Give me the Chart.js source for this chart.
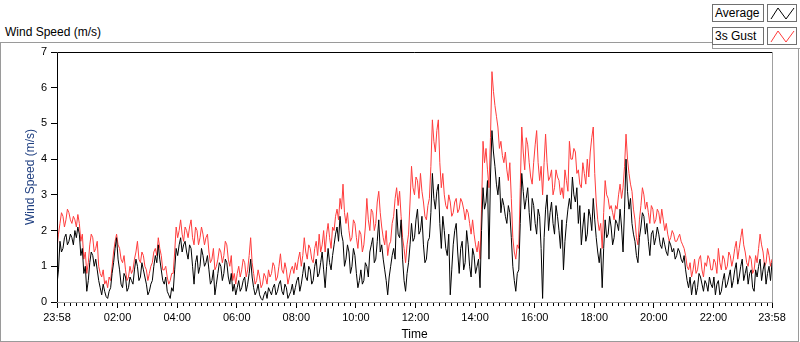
<!DOCTYPE html>
<html>
<head>
<meta charset="utf-8">
<script src="https://cdn.jsdelivr.net/npm/chart.js@4.4.1/dist/chart.umd.min.js"></script>
<style>
  html, body { margin: 0; padding: 0; background: #fff; }
  body { width: 800px; height: 342px; position: relative; overflow: hidden; font-family: "Liberation Sans", Arial, sans-serif; }
  #frame { position: absolute; left: 0; top: 42px; width: 799px; height: 300px; border: 1px solid #9a9a9a; box-sizing: border-box; }
  #legendCut { position: absolute; left: 712px; top: 40px; width: 88px; height: 9px; background: #fff; border-left: 1px solid #9a9a9a; border-bottom: 1px solid #9a9a9a; box-sizing: border-box; }
  #title { position: absolute; left: 5px; top: 25px; font-size: 12px; color: #000; }
  .lg { position: absolute; height: 18px; border: 1px solid #707070; box-sizing: border-box; background: #fff; font-size: 12px; line-height: 16px; padding-left: 2px; z-index: 2; }
  .lg svg { display: block; }
  canvas { position: absolute; left: 0; top: 0; z-index: 1; }
</style>
</head>
<body>
<div id="frame"></div>
<div id="legendCut"></div>
<div id="title">Wind Speed (m/s)</div>
<div class="lg" style="left:712px;top:4px;width:52px;">Average</div>
<div class="lg" style="left:767px;top:4px;width:30px;padding:0;"><svg width="28" height="16"><polyline points="3,14 10,3 18,14 26,3" fill="none" stroke="#000" stroke-width="1"/></svg></div>
<div class="lg" style="left:712px;top:27px;width:52px;">3s Gust</div>
<div class="lg" style="left:767px;top:27px;width:30px;padding:0;"><svg width="28" height="16"><polyline points="3,14 10,3 18,14 26,3" fill="none" stroke="#ff3c3c" stroke-width="1"/></svg></div>
<canvas id="windChart" width="800" height="342"></canvas>
<script>
// one sample every 3 minutes, starting at 23:58
const sampleStep = 3;
const spanMinutes = 1440;
const startClock = "23:58";

const timeLabels = ["23:58", "02:00", "04:00", "06:00", "08:00", "10:00", "12:00",
  "14:00", "16:00", "18:00", "20:00", "22:00", "23:58"];

const averageSpeed = [
  0.5,0.9, 1.7,1.4, 1.5,1.8, 1.9,1.6, 1.7,1.9, 1.8,1.6, 2.0,1.8, 2.1,1.9, 1.3,1.5, 0.8,1.0,
  0.3,0.6, 1.1,1.4, 1.3,1.0, 1.2,0.9, 0.6,0.4, 0.2,0.5, 0.3,0.15, 0.1,0.3, 0.4,0.8, 1.1,1.5,
  1.8,1.2, 0.9,0.5, 0.4,0.8, 0.7,0.3, 0.4,0.7, 0.6,0.5, 0.9,1.2, 1.0,0.6, 0.7,1.1, 0.9,0.7,
  0.5,0.2, 0.3,0.5, 0.6,1.0, 1.3,1.1, 1.6,1.2, 0.9,0.6, 0.5,0.7, 0.3,0.2, 0.1,0.4, 0.3,0.9,
  1.5,1.3, 1.6,1.8, 1.4,1.6, 1.7,1.4, 1.2,1.6, 1.5,1.0, 0.5,1.1, 1.3,0.8, 1.0,1.5, 1.3,1.0,
  1.1,1.3, 0.9,0.5, 0.6,0.9, 0.2,0.5, 0.8,1.1, 1.0,0.6, 0.8,1.2, 1.1,0.7, 0.5,0.8, 0.3,0.5,
  0.2,0.4, 0.6,0.3, 0.4,0.6, 0.7,0.3, 0.5,0.8, 1.2,0.7, 0.4,0.2, 0.3,0.5, 0.2,0.1, 0.05,0.2,
  0.3,0.1, 0.4,0.3, 0.2,0.4, 0.5,0.2, 0.3,0.5, 0.6,0.3, 0.2,0.5, 0.4,0.1, 0.2,0.3, 0.5,0.2,
  0.4,0.6, 0.7,0.3, 0.5,0.8, 1.1,0.7, 0.6,1.0, 0.9,0.5, 0.6,1.0, 1.2,0.7, 0.8,1.1, 1.4,0.9,
  0.4,1.0, 1.5,1.1, 0.9,1.3, 1.6,1.9, 2.1,1.7, 2.4,1.9, 1.7,1.0, 1.2,1.6, 1.4,0.8, 1.0,1.5,
  1.3,0.8, 0.4,0.6, 0.9,0.5, 0.6,1.1, 1.0,0.7, 1.4,1.6, 1.8,1.1, 1.2,1.7, 2.3,1.4, 1.6,1.2,
  0.9,0.6, 0.2,0.7, 1.0,1.3, 1.5,1.2, 2.6,1.9, 1.8,2.3, 1.2,0.6, 0.3,0.8, 1.1,1.6, 2.2,1.7,
  1.8,2.3, 2.6,1.9, 2.0,2.4, 1.6,1.1, 1.2,1.7, 1.8,2.5, 3.6,2.9, 2.6,3.1, 3.3,2.2, 1.5,2.4,
  2.0,1.5, 1.3,1.9, 0.2,0.9, 1.6,2.0, 2.2,1.4, 0.8,1.5, 1.7,0.9, 1.1,2.0, 1.6,1.0, 0.7,1.5,
  1.3,0.8, 1.0,1.2, 0.4,2.0, 3.2,2.6, 2.8,3.4, 1.2,3.5, 4.8,4.2, 3.8,3.3, 3.0,3.5, 2.5,2.9,
  2.7,2.4, 2.2,2.7, 2.5,1.8, 1.0,0.6, 0.3,0.8, 0.9,2.2, 3.6,3.1, 2.6,2.9, 3.2,2.5, 2.0,2.9,
  2.7,2.2, 1.9,2.6, 2.4,1.5, 0.1,1.8, 2.6,3.0, 2.0,2.5, 2.8,2.2, 1.9,2.7, 2.4,2.0, 1.5,2.3,
  0.9,1.7, 2.2,2.6, 2.9,2.6, 3.5,3.0, 2.8,3.2, 2.2,2.7, 1.6,2.1, 2.5,1.7, 1.9,2.6, 2.4,2.0,
  2.9,2.3, 1.8,1.4, 1.1,1.5, 0.4,1.5, 2.3,1.8, 1.9,2.4, 2.1,1.6, 1.8,2.3, 2.2,2.0, 2.6,2.1,
  1.4,2.6, 4.0,3.1, 2.6,2.9, 2.2,1.9, 1.7,1.3, 1.1,1.8, 2.1,2.5, 2.4,1.9, 2.2,1.7, 1.3,1.9,
  2.0,1.6, 1.8,2.1, 1.9,1.6, 1.5,1.8, 1.6,1.4, 1.3,1.7, 1.6,1.4, 1.5,1.2, 1.3,1.5, 1.4,1.2,
  1.1,1.3, 0.9,0.6, 0.4,0.7, 0.2,0.5, 0.6,0.2, 0.4,0.8, 0.7,0.5, 0.3,0.6, 0.5,0.3, 0.7,0.5,
  0.4,0.7, 0.2,0.5, 0.6,0.2, 0.3,0.6, 0.8,0.4, 0.5,0.7, 0.9,0.4, 0.6,0.9, 1.1,0.5, 0.7,1.0,
  1.2,0.6, 0.8,1.0, 0.5,0.8, 0.9,0.4, 0.3,0.9, 0.7,1.0, 1.2,0.6, 0.9,1.1, 0.5,0.8, 1.0,0.6,
  1.1
];

const gustSpeed = [
  1.5,1.9, 2.2,2.5, 2.4,2.1, 2.3,2.6, 2.5,2.3, 2.2,2.4, 2.3,2.1, 2.45,2.2, 1.7,1.9, 1.2,1.4,
  0.8,1.1, 1.6,1.9, 1.8,1.4, 1.5,1.7, 1.0,0.8, 0.7,0.9, 0.5,0.6, 0.4,0.7, 0.6,1.0, 1.4,1.7,
  1.9,1.6, 1.5,1.2, 1.1,1.3, 0.9,0.6, 0.7,1.0, 0.8,0.9, 1.2,1.4, 1.7,1.2, 1.1,1.4, 1.3,1.0,
  0.9,0.6, 0.8,1.0, 1.1,1.4, 1.5,1.3, 1.8,1.5, 1.3,0.9, 0.9,1.0, 0.7,0.5, 0.6,0.8, 0.8,1.4,
  2.1,1.8, 2.0,2.3, 1.9,1.7, 2.1,2.0, 1.8,2.1, 2.3,1.8, 1.6,2.1, 2.0,1.6, 1.8,2.1, 1.9,1.6,
  1.8,1.9, 1.4,1.1, 1.2,1.5, 0.9,1.0, 1.2,1.5, 1.4,1.1, 1.3,1.7, 1.6,1.2, 1.0,1.3, 0.6,0.8,
  0.5,0.8, 1.0,0.7, 0.9,1.2, 1.1,0.7, 0.9,1.3, 1.8,1.1, 0.8,0.5, 0.6,0.9, 0.7,0.4, 0.5,0.8,
  0.7,0.5, 0.9,0.7, 0.8,1.1, 1.0,0.6, 0.7,1.0, 1.35,0.9, 0.8,1.1, 0.9,0.5, 0.7,0.9, 1.0,0.8,
  1.1,0.9, 1.2,1.4, 1.0,1.3, 1.8,1.4, 1.2,1.6, 1.5,1.2, 1.1,1.5, 1.7,1.3, 1.9,1.4, 1.6,2.0,
  1.4,1.9, 2.2,1.8, 1.5,2.1, 2.0,2.4, 2.6,2.3, 2.9,2.6, 3.3,2.5, 2.2,2.5, 2.0,1.7, 1.8,2.3,
  2.2,1.8, 1.5,2.0, 1.9,1.4, 1.6,2.1, 2.9,2.3, 2.0,2.6, 2.5,2.0, 2.2,2.8, 3.1,2.5, 2.1,1.8,
  1.6,2.0, 1.3,1.6, 1.7,2.2, 2.4,2.9, 3.2,2.7, 3.1,2.4, 1.8,1.5, 1.1,1.6, 1.9,2.8, 3.8,3.2,
  3.0,3.5, 3.4,2.9, 3.6,3.1, 2.8,2.4, 2.3,2.7, 2.9,3.8, 5.1,4.5, 4.2,4.8, 5.1,3.9, 3.2,3.6,
  3.0,2.7, 2.6,3.0, 2.8,2.4, 2.5,2.8, 2.9,2.5, 2.6,2.9, 2.8,2.6, 2.3,2.6, 2.5,2.2, 1.9,2.3,
  1.9,1.6, 1.4,1.7, 1.2,2.6, 4.5,3.9, 4.3,3.7, 3.2,4.6, 6.45,5.9, 5.5,5.2, 4.9,4.3, 4.5,4.1,
  3.9,4.2, 3.7,3.4, 3.9,2.9, 1.8,1.4, 1.2,1.6, 1.5,3.2, 4.9,4.2, 3.7,4.6, 4.4,3.9, 3.5,3.3,
  3.9,4.4, 4.8,3.9, 3.4,3.8, 3.0,3.9, 4.7,3.9, 3.4,3.5, 3.7,3.0, 3.2,3.7, 3.5,3.4, 3.0,3.2,
  2.9,3.7, 3.4,3.1, 4.5,4.0, 4.0,4.3, 4.2,3.6, 3.7,3.3, 3.2,3.9, 3.6,3.3, 4.0,3.5, 4.2,4.6,
  4.9,3.6, 2.8,2.3, 2.0,2.2, 1.5,2.5, 3.4,3.0, 2.9,2.6, 2.7,2.5, 2.3,2.7, 2.6,3.0, 3.3,2.9,
  3.2,3.8, 4.7,4.0, 3.6,3.3, 3.1,2.6, 2.3,1.8, 1.6,2.3, 2.7,3.2, 3.0,2.6, 2.8,2.5, 2.2,2.7,
  2.6,2.2, 2.3,2.6, 2.5,2.2, 2.6,2.3, 2.0,2.2, 1.9,1.7, 1.8,2.0, 1.9,1.7, 1.7,1.8, 1.9,1.7,
  1.6,1.5, 1.3,1.0, 0.9,1.1, 0.7,0.9, 1.2,0.8, 0.9,1.2, 1.3,0.9, 0.7,1.1, 1.0,1.3, 1.2,0.9,
  0.9,1.2, 1.1,0.8, 1.5,1.1, 0.9,1.3, 1.2,0.9, 1.0,1.4, 1.3,1.0, 1.2,1.5, 1.7,1.2, 1.5,1.8,
  2.05,1.6, 1.4,1.1, 1.0,1.3, 1.2,0.8, 0.9,1.3, 1.1,1.5, 1.9,1.6, 1.4,1.0, 1.1,1.5, 1.3,1.0,
  1.2
];

const tickFont = { family: "'Liberation Sans', Arial, sans-serif", size: 11 };
const titleFont = { family: "'Liberation Sans', Arial, sans-serif", size: 12 };

function clockToMinutes(label) {
  const [h, m] = label.split(":").map(Number);
  return h * 60 + m;
}

// minutes after the start of the plot for each tick label
const startMin = clockToMinutes(startClock);
const tickMinutes = timeLabels.map((lab, i) => {
  if (i === timeLabels.length - 1) return spanMinutes;
  return (clockToMinutes(lab) - startMin + 1440) % 1440;
});

const avgPoints = averageSpeed.map((v, i) => ({ x: i * sampleStep, y: v }));
const gustPoints = gustSpeed.map((v, i) => ({ x: i * sampleStep, y: v }));

// plot frame and minor time ticks
const framePlugin = {
  id: "frame",
  afterDraw(chart) {
    const { ctx, chartArea: a, scales } = chart;
    ctx.save();
    ctx.lineWidth = 1;
    ctx.strokeStyle = "#000";
    ctx.beginPath();
    ctx.moveTo(a.left + 0.5, a.bottom);
    ctx.lineTo(a.left + 0.5, a.top + 0.5);
    ctx.lineTo(a.right, a.top + 0.5);
    ctx.stroke();
    ctx.strokeStyle = "#a0a0a0";
    ctx.beginPath();
    ctx.moveTo(a.right + 0.5, a.top);
    ctx.lineTo(a.right + 0.5, a.bottom + 0.5);
    ctx.lineTo(a.left, a.bottom + 0.5);
    ctx.stroke();

    ctx.strokeStyle = "#000";
    ctx.beginPath();
    for (let t = 2 + 12; t < spanMinutes; t += 12) {
      const near = tickMinutes.some((m) => Math.abs(m - t) < 6);
      if (near) continue;
      const px = Math.round(scales.x.getPixelForValue(t)) + 0.5;
      ctx.moveTo(px, a.bottom + 1);
      ctx.lineTo(px, a.bottom + 4);
    }
    ctx.stroke();
    ctx.restore();
  },
};

new Chart(document.getElementById("windChart"), {
  type: "line",
  data: {
    datasets: [
      {
        label: "Average",
        data: avgPoints,
        borderColor: "#000",
        borderWidth: 1,
        pointRadius: 0,
        tension: 0,
      },
      {
        label: "3s Gust",
        data: gustPoints,
        borderColor: "#ff3c3c",
        borderWidth: 1,
        pointRadius: 0,
        tension: 0,
      },
    ],
  },
  options: {
    responsive: false,
    animation: false,
    devicePixelRatio: 1,
    layout: { padding: { left: 0, top: 52, right: 28, bottom: 0 } },
    plugins: { legend: { display: false }, tooltip: { enabled: false } },
    scales: {
      x: {
        type: "linear",
        min: 0,
        max: spanMinutes,
        afterBuildTicks: (s) => {
          s.ticks = tickMinutes.map((v) => ({ value: v }));
        },
        afterFit: (s) => {
          s.height = 40;
        },
        ticks: {
          autoSkip: false,
          maxRotation: 0,
          padding: 3,
          color: "#000",
          font: tickFont,
          callback: (v) => timeLabels[tickMinutes.indexOf(v)],
        },
        grid: { drawOnChartArea: false, tickLength: 6, color: "#000" },
        border: { display: false },
        title: { display: true, text: "Time", color: "#000", font: titleFont, padding: { top: 0, bottom: 0 } },
      },
      y: {
        min: 0,
        max: 7,
        afterFit: (s) => {
          s.width = 57;
        },
        ticks: { stepSize: 1, padding: 4, color: "#000", font: tickFont },
        grid: { drawOnChartArea: false, tickLength: 6, color: "#000" },
        border: { display: false },
        title: {
          display: true,
          text: "Wind Speed (m/s)",
          color: "#1f3f80",
          font: titleFont,
          padding: { top: 23, bottom: 0 },
        },
      },
    },
  },
  plugins: [framePlugin],
});
</script>
</body>
</html>
